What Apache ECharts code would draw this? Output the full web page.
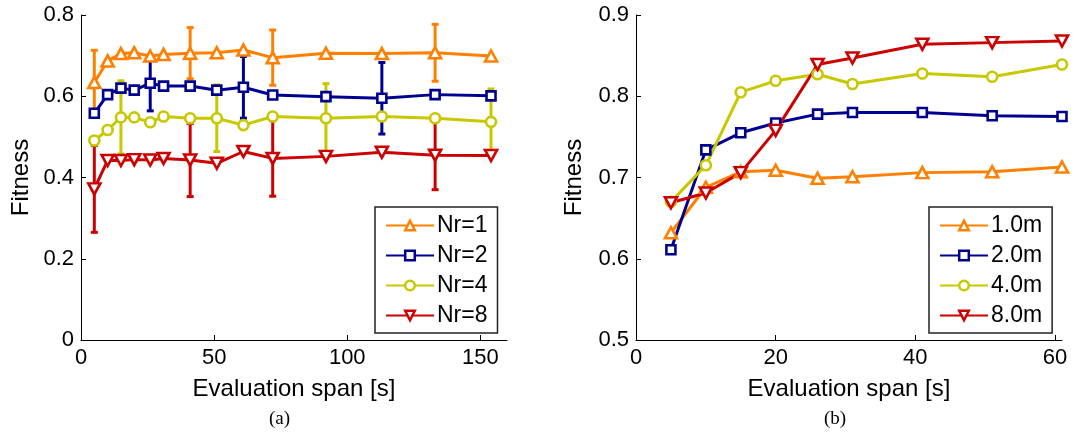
<!DOCTYPE html>
<html>
<head>
<meta charset="utf-8">
<script src="https://cdn.jsdelivr.net/npm/echarts@6/dist/echarts.min.js"></script>
<style>
html,body{margin:0;padding:0;background:#fff;}
#chart{width:1075px;height:438px;}
</style>
</head>
<body>
<div id="chart"></div>
<script>
// ---------- data: panel (a) ----------
var spanA = [5, 10, 15, 20, 26, 31, 41, 51, 61, 72, 92, 113, 133, 154];
var nr1 = [0.634, 0.687, 0.705, 0.707, 0.699, 0.703, 0.706, 0.707, 0.714, 0.695, 0.706, 0.705, 0.707, 0.699];
var nr2 = [0.558, 0.604, 0.620, 0.615, 0.632, 0.625, 0.625, 0.615, 0.622, 0.603, 0.599, 0.595, 0.604, 0.601];
var nr4 = [0.491, 0.517, 0.548, 0.548, 0.536, 0.550, 0.546, 0.546, 0.529, 0.550, 0.546, 0.550, 0.546, 0.537];
var nr8 = [0.372, 0.442, 0.442, 0.444, 0.443, 0.447, 0.443, 0.435, 0.464, 0.447, 0.452, 0.462, 0.455, 0.454];
var nr1Err = [0.079, 0, 0, 0, 0, 0, 0.063, 0, 0, 0.068, 0, 0, 0.070, 0];
var nr2Err = [0, 0, 0, 0, 0.068, 0, 0, 0, 0.076, 0, 0, 0.088, 0, 0];
var nr4Err = [0, 0, 0.090, 0, 0, 0, 0, 0.082, 0, 0, 0.085, 0, 0, 0.081];
var nr8Err = [0.107, 0, 0, 0, 0, 0, 0.090, 0, 0, 0.093, 0, 0, 0.085, 0];
var namesA = ['Nr=1', 'Nr=2', 'Nr=4', 'Nr=8'];
var xTicksA = [0, 50, 100, 150];
var yTicksA = [0, 0.2, 0.4, 0.6, 0.8];

// ---------- data: panel (b) ----------
var spanB = [5, 10, 15, 20, 26, 31, 41, 51, 61];
var m1 = [0.632, 0.688, 0.707, 0.709, 0.699, 0.701, 0.706, 0.707, 0.713];
var m2 = [0.611, 0.734, 0.755, 0.767, 0.778, 0.780, 0.780, 0.776, 0.775];
var m4 = [0.670, 0.715, 0.805, 0.819, 0.827, 0.815, 0.828, 0.824, 0.839];
var m8 = [0.669, 0.681, 0.706, 0.758, 0.839, 0.847, 0.864, 0.866, 0.868];
var namesB = ['1.0m', '2.0m', '4.0m', '8.0m'];
var xTicksB = [0, 20, 40, 60];
var yTicksB = [0.5, 0.6, 0.7, 0.8, 0.9];

var colors = ['#ff8000', '#000090', '#c8c800', '#cc0000'];
var FONT = 'Liberation Sans';

function zip(xs, ys) { return xs.map(function (x, i) { return [x, ys[i]]; }); }
function zip3(xs, ys, es) { return xs.map(function (x, i) { return [x, ys[i], es[i]]; }); }

var symbols = [
  { symbol: 'triangle', size: [12, 11], rotate: 0 },
  { symbol: 'rect', size: 9, rotate: 0 },
  { symbol: 'circle', size: 10, rotate: 0 },
  { symbol: 'triangle', size: [12, 11], rotate: 180 }
];

function lineSeries(name, xs, ys, k, gi) {
  var s = symbols[k];
  return {
    type: 'line', name: name, xAxisIndex: gi, yAxisIndex: gi,
    data: zip(xs, ys),
    symbol: s.symbol, symbolSize: s.size, symbolRotate: s.rotate,
    showAllSymbol: true,
    lineStyle: { color: colors[k], width: 3 },
    itemStyle: { color: '#ffffff', borderColor: colors[k], borderWidth: 2.6 },
    emphasis: { disabled: true },
    animation: false
  };
}

function errSeries(xs, ys, es, k) {
  return {
    type: 'custom', name: 'err' + k, xAxisIndex: 0, yAxisIndex: 0,
    data: zip3(xs, ys, es),
    animation: false,
    renderItem: function (params, api) {
      var x = api.value(0), y = api.value(1), e = api.value(2);
      if (!(e > 0)) return null;
      var top = api.coord([x, y + e]);
      var bot = api.coord([x, y - e]);
      var hw = 3.5;
      var st = { stroke: colors[k], lineWidth: 3 };
      return {
        type: 'group',
        children: [
          { type: 'line', shape: { x1: top[0], y1: top[1], x2: bot[0], y2: bot[1] }, style: st },
          { type: 'line', shape: { x1: top[0] - hw, y1: top[1], x2: top[0] + hw, y2: top[1] }, style: st },
          { type: 'line', shape: { x1: bot[0] - hw, y1: bot[1], x2: bot[0] + hw, y2: bot[1] }, style: st }
        ]
      };
    }
  };
}

var axisCommon = {
  axisLine: { show: true, onZero: false, lineStyle: { color: '#000', width: 1 } },
  axisTick: { show: true, inside: true, length: 5, lineStyle: { color: '#000', width: 1 } },
  splitLine: { show: false },
  axisLabel: { color: '#000', fontFamily: FONT, fontSize: 22, margin: 7 },
  nameTextStyle: { color: '#000', fontFamily: FONT, fontSize: 24 }
};
function mk(base, extra) { return echarts.util.merge(echarts.util.clone(base), extra, true); }

function legend(names, left) {
  return {
    data: names, orient: 'vertical', left: left, top: 207,
    backgroundColor: '#fff', borderColor: '#222', borderWidth: 1.5,
    padding: [7, 10, 6, 10], itemGap: 7, itemWidth: 48, itemHeight: 12,
    itemStyle: { borderWidth: 2.5 },
    textStyle: { color: '#000', fontFamily: FONT, fontSize: 23, padding: [0, 0, 0, -2] },
    selectedMode: false
  };
}

var series = [
  errSeries(spanA, nr1, nr1Err, 0), lineSeries('Nr=1', spanA, nr1, 0, 0),
  errSeries(spanA, nr2, nr2Err, 1), lineSeries('Nr=2', spanA, nr2, 1, 0),
  errSeries(spanA, nr4, nr4Err, 2), lineSeries('Nr=4', spanA, nr4, 2, 0),
  errSeries(spanA, nr8, nr8Err, 3), lineSeries('Nr=8', spanA, nr8, 3, 0),
  lineSeries('1.0m', spanB, m1, 0, 1),
  lineSeries('2.0m', spanB, m2, 1, 1),
  lineSeries('4.0m', spanB, m4, 2, 1),
  lineSeries('8.0m', spanB, m8, 3, 1)
];

var option = {
  backgroundColor: '#fff',
  animation: false,
  grid: [
    { left: 81, top: 15, width: 426, height: 325 },
    { left: 636, top: 15, width: 426, height: 325 }
  ],
  xAxis: [
    mk(axisCommon, { type: 'value', gridIndex: 0, min: 0, max: 160, name: 'Evaluation span [s]',
      nameLocation: 'middle', nameGap: 37,
      axisTick: { customValues: xTicksA }, axisLabel: { customValues: xTicksA } }),
    mk(axisCommon, { type: 'value', gridIndex: 1, min: 0, max: 61, name: 'Evaluation span [s]',
      nameLocation: 'middle', nameGap: 37,
      axisTick: { customValues: xTicksB }, axisLabel: { customValues: xTicksB } })
  ],
  yAxis: [
    mk(axisCommon, { type: 'value', gridIndex: 0, min: 0, max: 0.8, name: 'Fitness',
      nameLocation: 'middle', nameGap: 48,
      axisTick: { customValues: yTicksA }, axisLabel: { customValues: yTicksA } }),
    mk(axisCommon, { type: 'value', gridIndex: 1, min: 0.5, max: 0.9, name: 'Fitness',
      nameLocation: 'middle', nameGap: 50,
      axisTick: { customValues: yTicksB }, axisLabel: { customValues: yTicksB, formatter: function (v) { return v.toFixed(1); } } })
  ],
  legend: [legend(namesA, 375), legend(namesB, 929)],
  graphic: [
    { type: 'text', left: 269, top: 410, style: { text: '(a)', font: '19px "Liberation Serif"', fill: '#000' } },
    { type: 'text', left: 824, top: 410, style: { text: '(b)', font: '19px "Liberation Serif"', fill: '#000' } }
  ],
  series: series
};

var chart = echarts.init(document.getElementById('chart'), null, { renderer: 'canvas' });
chart.setOption(option);
</script>
</body>
</html>
